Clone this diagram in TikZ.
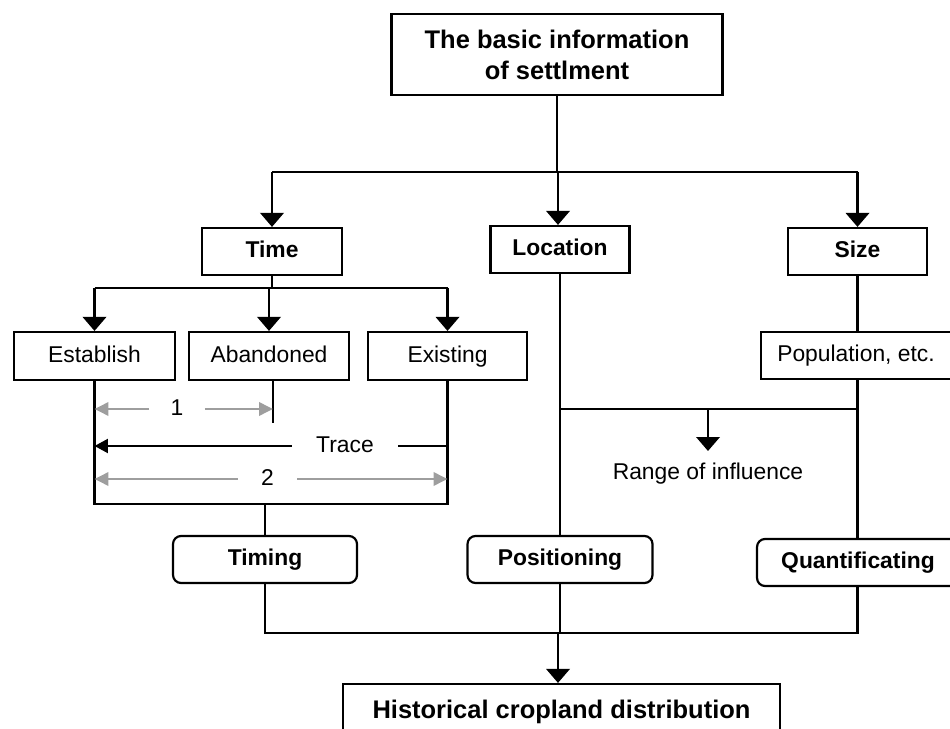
\documentclass[tikz,border=0pt]{standalone}
\usepackage{fontspec}
\setmainfont{Liberation Sans}
\usetikzlibrary{arrows.meta}

\begin{document}
\begin{tikzpicture}[x=0.02cm, y=-0.02cm,
        box/.style={draw, line width=1.25pt, inner sep=0pt, align=center, font=\fontsize{13}{15}\bfseries},
        oneline/.style={text height=0.72em, text depth=0pt},
        plainbox/.style={box, oneline, font=\fontsize{13}{15}\selectfont},
        boldbox/.style={box, oneline},
        roundbox/.style={box, oneline, rounded corners=0.16cm},
        link/.style={line width=1.25pt},
        arr/.style={link, -{Triangle[width=0.47cm, length=0.28cm]}},
        tracearr/.style={link, -{Triangle[width=0.28cm, length=0.27cm]}},
        grayarr/.style={line width=1.1pt, color=black!38, -{Triangle[width=0.27cm, length=0.28cm]}},
        label/.style={inner sep=0pt, oneline, font=\fontsize{13}{15}\selectfont}]
        \useasboundingbox (0,0) rectangle (950,729);

        % 顶部
        \node[box, font=\fontsize{14.5}{17.6}\bfseries, minimum width=6.62cm, minimum height=1.62cm] (info) at (557,54.5) {The basic information\\of settlment};

        % 三个属性
        \node[boldbox, minimum width=2.8cm, minimum height=0.94cm] (time) at (272,251.5) {Time};
        \node[boldbox, minimum width=2.78cm, minimum height=0.94cm] (location) at (560,249.5) {Location};
        \node[boldbox, minimum width=2.78cm, minimum height=0.94cm] (size) at (857.5,251.5) {Size};

        \coordinate (j1) at (558,172);
        \draw[link] (info.south) -- (info.south |- j1);
        \draw[link] (time.north |- j1) -- (size.north |- j1);
        \draw[arr] (time.north |- j1) -- (time.north);
        \draw[arr] (j1) -- (j1 |- location.north);
        \draw[arr] (size.north |- j1) -- (size.north);

        % 时间
        \node[plainbox, minimum width=3.22cm, minimum height=0.96cm] (establish) at (94.5,356) {Establish};
        \node[plainbox, minimum width=3.2cm, minimum height=0.96cm] (abandoned) at (269,356) {Abandoned};
        \node[plainbox, minimum width=3.18cm, minimum height=0.96cm] (existing) at (447.5,356) {Existing};

        \coordinate (j2) at (272,288);
        \draw[link] (time.south) -- (time.south |- j2);
        \draw[link] (establish.north |- j2) -- (existing.north |- j2);
        \draw[arr] (establish.north |- j2) -- (establish.north);
        \draw[arr] (abandoned.north |- j2) -- (abandoned.north);
        \draw[arr] (existing.north |- j2) -- (existing.north);

        % 时段及追溯
        \coordinate (j3) at (265,504);
        \coordinate (abend) at (273,423);
        \draw[link] (establish.south) -- (establish.south |- j3) -- (existing.south |- j3) -- (existing.south);
        \draw[link] (abandoned.south -| abend) -- (abend);

        \node[label, minimum width=1.1cm] (one) at (177,409) {1};
        \draw[grayarr] (one.west) -- (establish.south |- one.west);
        \draw[grayarr] (one.east) -- (abend |- one.east);

        \node[label, minimum width=2.12cm] (trace) at (345,446) {Trace};
        \draw[tracearr] (trace.west) -- (establish.south |- trace.west);
        \draw[link] (trace.east) -- (existing.south |- trace.east);

        \node[label, minimum width=1.18cm] (two) at (267.5,479) {2};
        \draw[grayarr] (two.west) -- (establish.south |- two.west);
        \draw[grayarr] (two.east) -- (existing.south |- two.east);

        % 规模
        \node[plainbox, minimum width=3.8cm, minimum height=0.94cm] (population) at (856,355.5) {Population, etc.};
        \draw[link] (size.south) -- (size.south |- population.north);

        % 影响范围
        \coordinate (j4) at (708,409);
        \coordinate (rtip) at (708,451);
        \draw[link] (location.south |- j4) -- (size.south |- j4);
        \draw[arr] (j4) -- (rtip);
        \node[label] (range) at (708,473) {Range of influence};

        % 三种方法
        \node[roundbox, minimum width=3.68cm, minimum height=0.94cm] (timing) at (265,559.5) {Timing};
        \node[roundbox, minimum width=3.7cm, minimum height=0.94cm] (positioning) at (560,559.5) {Positioning};
        \node[roundbox, minimum width=4.04cm, minimum height=0.94cm] (quant) at (858,562.5) {Quantificating};

        \draw[link] (j3) -- (timing.north);
        \draw[link] (location.south) -- (positioning.north);
        \draw[link] (size.south |- population.south) -- (size.south |- quant.north);

        % 结果
        \node[box, font=\fontsize{14.5}{17}\bfseries, minimum width=8.74cm, minimum height=1.1cm] (result) at (561.5,711.5) {Historical cropland distribution};

        \coordinate (j5) at (558,633);
        \draw[link] (timing.south) -- (timing.south |- j5) -- (size.south |- j5) -- (size.south |- quant.south);
        \draw[link] (positioning.south) -- (positioning.south |- j5);
        \draw[arr] (j5) -- (j5 |- result.north);
    \end{tikzpicture}
\end{document}
